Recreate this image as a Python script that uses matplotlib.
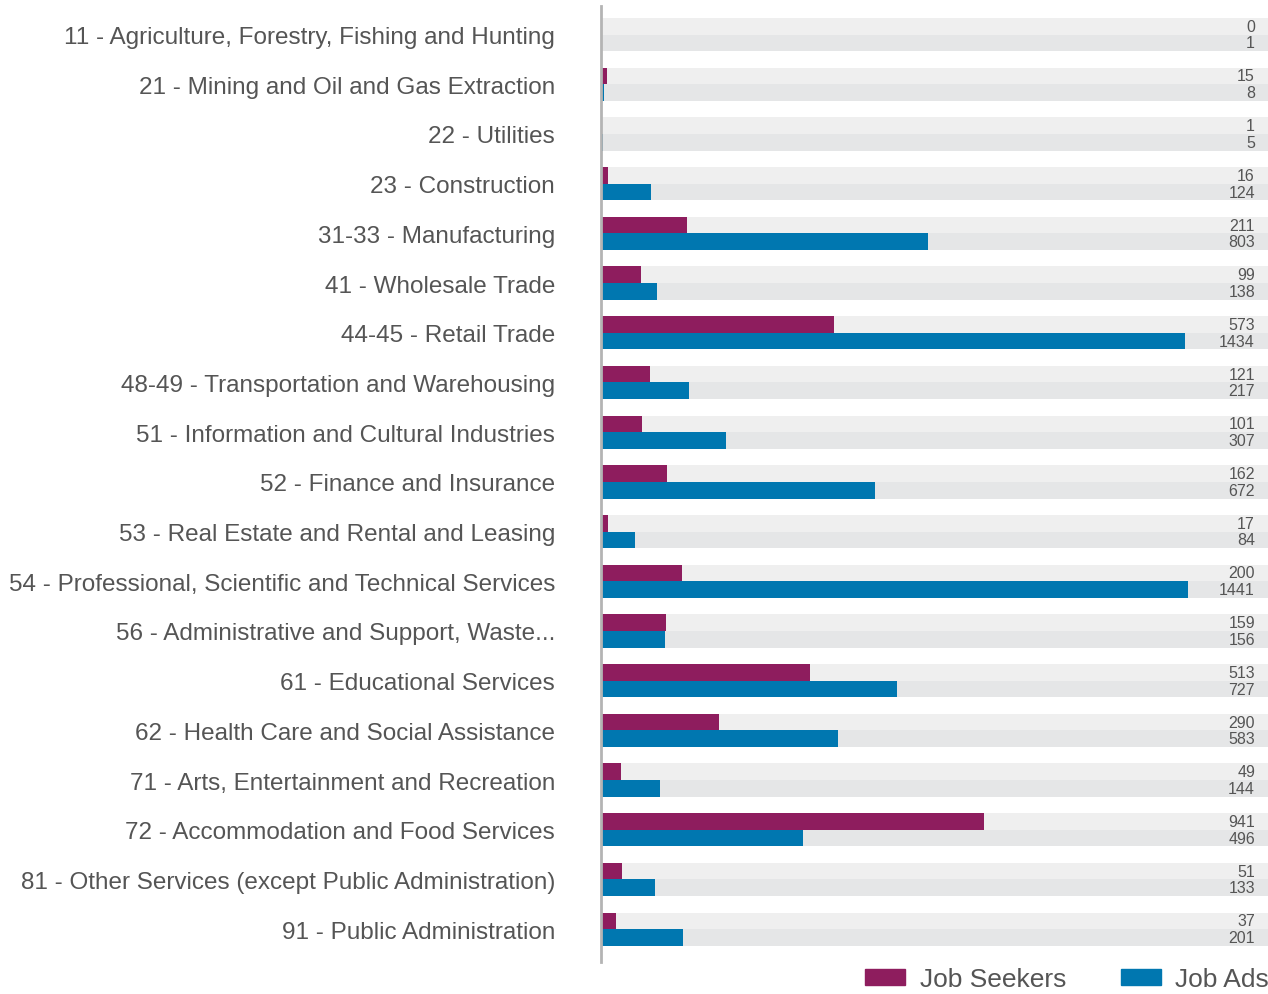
import numpy as np
import matplotlib.pyplot as plt
from matplotlib.patches import Patch

plt.rcParams['font.family'] = ['Liberation Sans', 'DejaVu Sans']

# data
industries = [
    "11 - Agriculture, Forestry, Fishing and Hunting",
    "21 - Mining and Oil and Gas Extraction",
    "22 - Utilities",
    "23 - Construction",
    "31-33 - Manufacturing",
    "41 - Wholesale Trade",
    "44-45 - Retail Trade",
    "48-49 - Transportation and Warehousing",
    "51 - Information and Cultural Industries",
    "52 - Finance and Insurance",
    "53 - Real Estate and Rental and Leasing",
    "54 - Professional, Scientific and Technical Services",
    "56 - Administrative and Support, Waste...",
    "61 - Educational Services",
    "62 - Health Care and Social Assistance",
    "71 - Arts, Entertainment and Recreation",
    "72 - Accommodation and Food Services",
    "81 - Other Services (except Public Administration)",
    "91 - Public Administration",
]
job_seekers = [0, 15, 1, 16, 211, 99, 573, 121, 101, 162, 17, 200, 159, 513, 290, 49, 941, 51, 37]
job_ads = [1, 8, 5, 124, 803, 138, 1434, 217, 307, 672, 84, 1441, 156, 727, 583, 144, 496, 133, 201]

seeker_color = "#8e1d5e"
ads_color = "#0077b0"
text_color = "#555555"

fig = plt.figure(figsize=(12.68, 9.95), dpi=100)
ax = fig.add_axes([601 / 1268, 1 - 963 / 995, 667 / 1268, 956 / 995])

y = np.arange(len(industries))
h = 0.335
xmax = 1638

# light background tracks
ax.barh(y - h / 2, [xmax] * len(y), height=h, color="#efefef", left=0)
ax.barh(y + h / 2, [xmax] * len(y), height=h, color="#e5e6e7", left=0)

ax.barh(y - h / 2, job_seekers, height=h, color=seeker_color)
ax.barh(y + h / 2, job_ads, height=h, color=ads_color)

for i in range(len(industries)):
    ax.annotate(str(job_seekers[i]), xy=(xmax, y[i] - h / 2), xytext=(-13, 0),
                textcoords="offset pixels", ha="right", va="center",
                fontsize=11.5, color=text_color)
    ax.annotate(str(job_ads[i]), xy=(xmax, y[i] + h / 2), xytext=(-13, 0),
                textcoords="offset pixels", ha="right", va="center",
                fontsize=11.5, color=text_color)

ax.set_xlim(0, xmax)
ax.set_ylim(len(industries) - 1 + 0.66, -0.575)
ax.set_yticks(y)
ax.set_yticklabels(industries, fontsize=17.5, color=text_color)
ax.tick_params(axis="y", length=0, pad=33)
ax.set_xticks([])

for s in ["top", "right", "bottom"]:
    ax.spines[s].set_visible(False)
ax.spines["left"].set_color("#b4b4b4")
ax.spines["left"].set_linewidth(2)

handles = [Patch(color=seeker_color, label="Job Seekers"),
           Patch(color=ads_color, label="Job Ads")]
fig.legend(handles=handles, loc="lower right", bbox_to_anchor=(1.003, 0.0),
           ncol=2, frameon=False, fontsize=19, labelcolor=text_color,
           handlelength=1.5, handleheight=0.55, handletextpad=0.55,
           columnspacing=2.1, borderaxespad=0.0, borderpad=0.1)

fig.savefig("out.png", dpi=100)
